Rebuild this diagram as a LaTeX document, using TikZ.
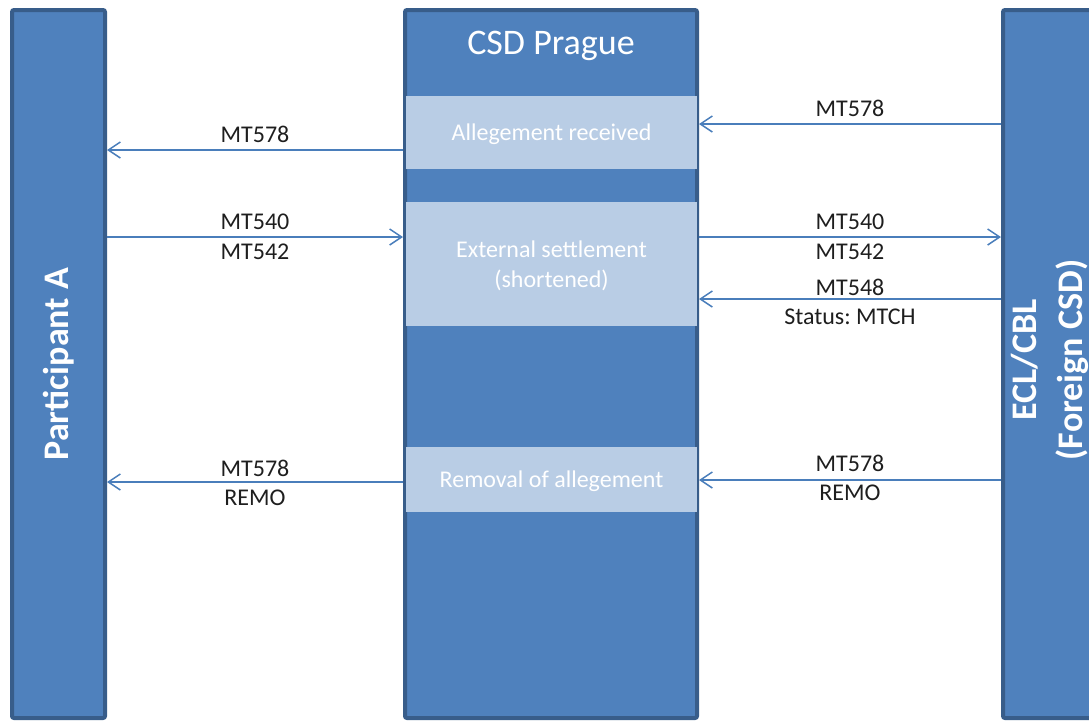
\documentclass[tikz,border=0pt]{standalone}
\usepackage{fontspec}
\setmainfont{Carlito}
\usetikzlibrary{arrows.meta,positioning}
\definecolor{colfill}{RGB}{79,129,189}
\definecolor{colline}{RGB}{56,93,138}
\definecolor{boxfill}{RGB}{185,205,229}
\definecolor{msgline}{RGB}{74,126,187}
\definecolor{msgtext}{RGB}{30,30,30}
\frenchspacing

\begin{document}
\begin{tikzpicture}[x=0.5pt, y=-0.5pt,
    column/.style={fill=colfill, draw=colline, line width=2pt, rounded corners=1pt,
        minimum height=354pt, inner sep=0pt, text=white},
    stepbox/.style={fill=boxfill, minimum width=145.5pt, inner sep=0pt, text=white,
        text depth=0pt, font=\fontsize{12}{15}\selectfont, align=center},
    msg/.style={draw=msgline, line width=0.75pt, -{Straight Barb[length=6pt, width=8pt]}},
    lbl/.style={text=msgtext, font=\fontsize{12}{14}\selectfont, inner sep=0pt}]
    \clip (0,0) rectangle (1089,724);

    % the three columns
    \node[column, minimum width=46.5pt] (left) at (58.5,364) {};
    \node[column, minimum width=146pt] (mid) at (551,364) {};
    \node[column, minimum width=46.5pt] (right) at (1049.5,364) {};
    \node[text=white, font=\bfseries\fontsize{18}{22}\selectfont, rotate=90] (partA) at (left) {Participant A};
    \node[text=white, font=\bfseries\fontsize{18}{23}\selectfont, rotate=90, align=center, xshift=2pt] (ecl) at (right) {ECL/CBL\\(Foreign CSD)};
    \node[text=white, text depth=0pt, font=\fontsize{18}{22}\selectfont] (title) at (551,43) {CSD Prague};

    % steps inside CSD Prague
    \node[stepbox, minimum height=36.5pt] (recv) at (551.5,132.5) {Allegement received};
    \node[stepbox, minimum height=62pt] (ext) at (551.5,264) {External settlement\\(shortened)};
    \node[stepbox, minimum height=32.5pt] (remo) at (551.5,479.5) {Removal of allegement};

    % message levels
    \coordinate (lv1) at (0,124);
    \coordinate (lv2) at (0,150);
    \coordinate (lv3) at (0,237);
    \coordinate (lv4) at (0,299);
    \coordinate (lv5) at (0,480);
    \coordinate (lv6) at (0,482);

    \draw[msg] (right.west |- lv1) -- node[lbl, yshift=8pt] {MT578} (mid.east |- lv1);
    \draw[msg] (mid.west |- lv2) -- node[lbl, yshift=8pt] {MT578} (left.east |- lv2);
    \draw[msg] (left.east |- lv3) -- node[lbl, yshift=7.5pt] {MT540} node[lbl, yshift=-7.5pt] {MT542} (mid.west |- lv3);
    \draw[msg] (mid.east |- lv3) -- node[lbl, yshift=7.5pt] {MT540} node[lbl, yshift=-7.5pt] {MT542} (right.west |- lv3);
    \draw[msg] (right.west |- lv4) -- node[lbl, yshift=6pt] {MT548} node[lbl, yshift=-9pt] {Status: MTCH} (mid.east |- lv4);
    \draw[msg] (mid.west |- lv6) -- node[lbl, yshift=7pt] {MT578} node[lbl, yshift=-8pt] {REMO} (left.east |- lv6);
    \draw[msg] (right.west |- lv5) -- node[lbl, yshift=8.5pt] {MT578} node[lbl, yshift=-6.5pt] {REMO} (mid.east |- lv5);
\end{tikzpicture}
\end{document}
